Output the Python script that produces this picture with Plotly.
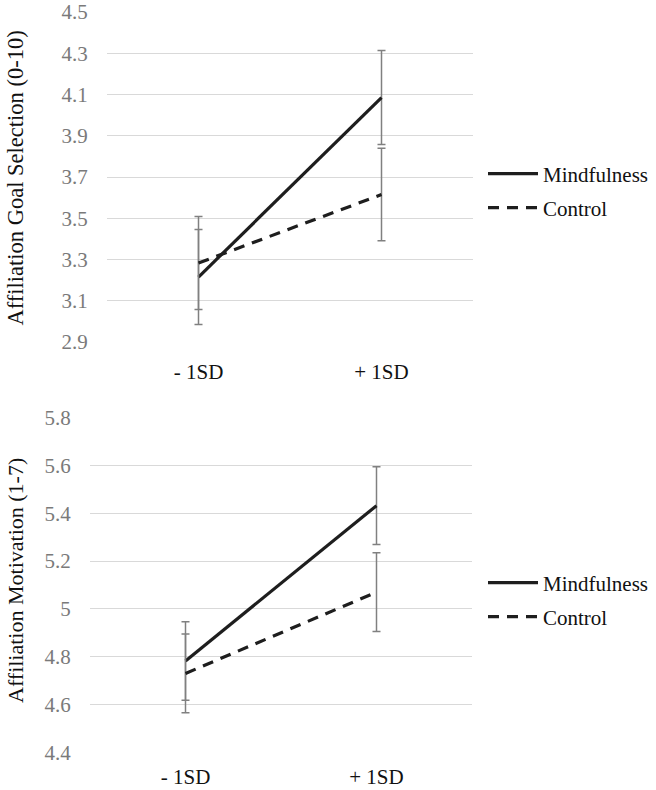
import plotly.graph_objects as go

categories = ["- 1SD", "+ 1SD"]

# Top panel: Affiliation Goal Selection (0-10)
goal_mind = [3.215, 4.085]
goal_mind_err = [0.23, 0.228]
goal_ctrl = [3.283, 3.615]
goal_ctrl_err = [0.225, 0.224]
goal_ticks = [2.9, 3.1, 3.3, 3.5, 3.7, 3.9, 4.1, 4.3, 4.5]

# Bottom panel: Affiliation Motivation (1-7)
mot_mind = [4.782, 5.432]
mot_mind_err = [0.164, 0.163]
mot_ctrl = [4.730, 5.070]
mot_ctrl_err = [0.165, 0.165]
mot_ticks = [4.4, 4.6, 4.8, 5.0, 5.2, 5.4, 5.6, 5.8]
mot_ticklabels = ["4.4", "4.6", "4.8", "5", "5.2", "5.4", "5.6", "5.8"]

W, H = 656, 790
FONT = "Liberation Serif"
LINE = "#1e1e1e"
ERR = "#808080"
GRID = "#d9d9d9"
TICKC = "#7a7a7a"

fig = go.Figure()

def add_pair(mind, mind_err, ctrl, ctrl_err, xa, ya, leg_m, leg_c):
    fig.add_trace(go.Scatter(
        x=categories, y=mind, mode="lines", name="Mindfulness",
        line=dict(color=LINE, width=3.2),
        error_y=dict(type="data", array=mind_err, color=ERR, thickness=1.5, width=4),
        xaxis=xa, yaxis=ya, legend=leg_m, showlegend=True))
    fig.add_trace(go.Scatter(
        x=categories, y=ctrl, mode="lines", name="Control",
        line=dict(color=LINE, width=3.2, dash="11px,8px"),
        error_y=dict(type="data", array=ctrl_err, color=ERR, thickness=1.5, width=4),
        xaxis=xa, yaxis=ya, legend=leg_c, showlegend=True))

add_pair(goal_mind, goal_mind_err, goal_ctrl, goal_ctrl_err, "x", "y", "legend", "legend3")
add_pair(mot_mind, mot_mind_err, mot_ctrl, mot_ctrl_err, "x2", "y2", "legend2", "legend4")

def px_x(p):
    return p / W

def px_y(p):
    return 1 - p / H

common_y = dict(showgrid=True, gridcolor=GRID, gridwidth=1, zeroline=False,
                showline=False, ticks="outside", ticklen=14,
                tickcolor="rgba(0,0,0,0)", automargin=False,
                tickfont=dict(family=FONT, size=21, color=TICKC))
common_x = dict(type="category", range=[-0.5, 1.5], showgrid=False,
                zeroline=False, showline=False, ticks="outside",
                tickcolor="rgba(0,0,0,0)", automargin=False,
                tickfont=dict(family=FONT, size=21, color="#111111"))

def leg(ycenter):
    return dict(x=px_x(483), y=px_y(ycenter), xanchor="left", yanchor="middle",
                font=dict(family=FONT, size=21, color="#111111"),
                bgcolor="rgba(0,0,0,0)", itemwidth=50, tracegroupgap=0)

fig.update_layout(
    width=W, height=H,
    margin=dict(l=0, r=0, t=0, b=0),
    paper_bgcolor="white", plot_bgcolor="white",
    font=dict(family=FONT),
    xaxis=dict(domain=[px_x(107), px_x(473)], anchor="y", ticklen=11, **common_x),
    yaxis=dict(domain=[px_y(342), px_y(12)], anchor="x", range=[2.9, 4.5],
               tickvals=goal_ticks, ticktext=[f"{v:.1f}" for v in goal_ticks],
               **common_y),
    xaxis2=dict(domain=[px_x(90), px_x(472)], anchor="y2", ticklen=5, **common_x),
    yaxis2=dict(domain=[px_y(752.3), px_y(417.7)], anchor="x2", range=[4.4, 5.8],
                tickvals=mot_ticks, ticktext=mot_ticklabels, **common_y),
    legend=leg(174),
    legend3=leg(208),
    legend2=leg(583),
    legend4=leg(617),
    annotations=[
        dict(text="Affiliation Goal Selection (0-10)", textangle=-90,
             x=px_x(15), y=px_y(178.5), xref="paper", yref="paper",
             xanchor="center", yanchor="middle", showarrow=False,
             font=dict(family=FONT, size=22.5, color="#111111")),
        dict(text="Affiliation Motivation (1-7)", textangle=-90,
             x=px_x(15), y=px_y(581), xref="paper", yref="paper",
             xanchor="center", yanchor="middle", showarrow=False,
             font=dict(family=FONT, size=22, color="#111111")),
    ],
)

fig.write_html("out.html", config={"displayModeBar": False},
               post_script="document.body.style.margin='0';document.body.style.overflow='hidden';")
